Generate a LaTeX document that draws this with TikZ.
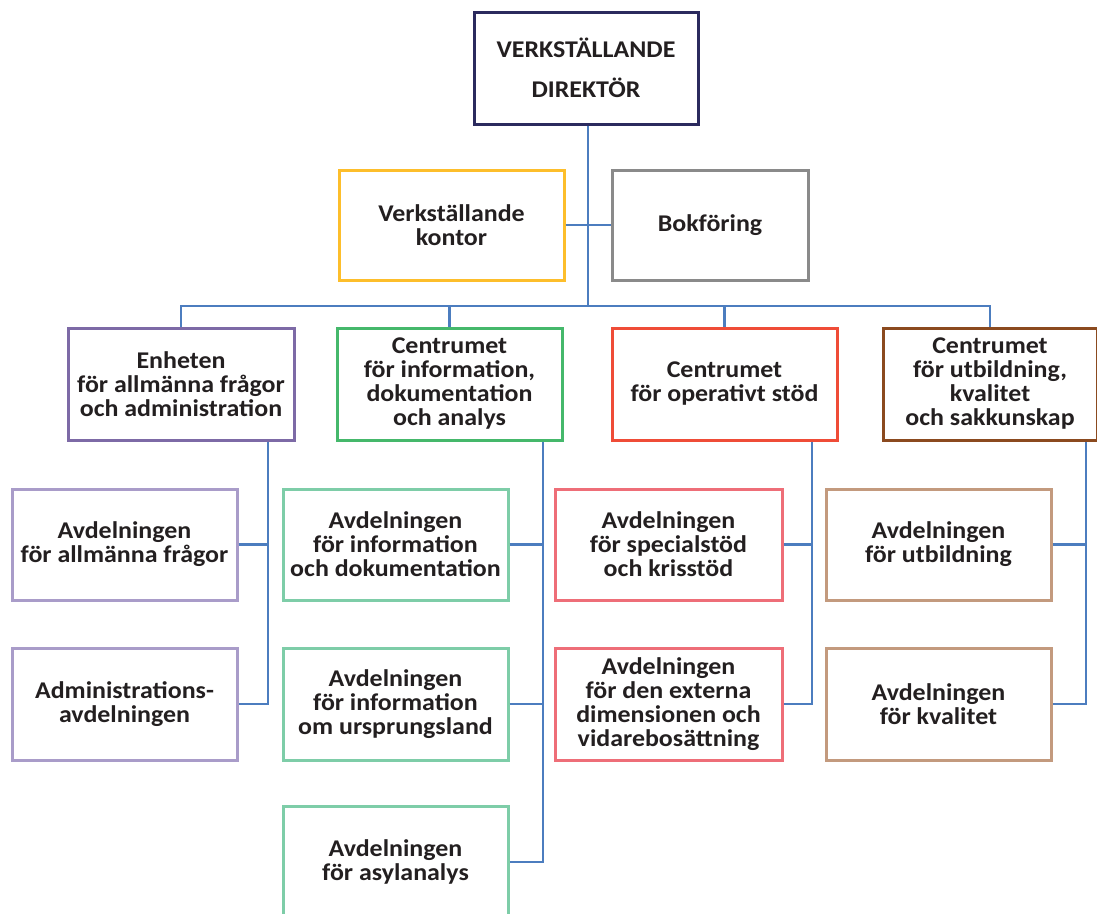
\documentclass[tikz,border=0pt]{standalone}
\usepackage{fontspec}
\setmainfont{Carlito}[FakeStretch=1.08]
\usetikzlibrary{calc}
\definecolor{cnavy}{HTML}{2B2A5E}
\definecolor{cyel}{HTML}{FDBE2B}
\definecolor{cgray}{HTML}{8A8A8A}
\definecolor{cpurp}{HTML}{7D6AA6}
\definecolor{cgreen}{HTML}{45B86B}
\definecolor{cred}{HTML}{EF4C37}
\definecolor{cbrown}{HTML}{8B4A1F}
\definecolor{clav}{HTML}{A99CC9}
\definecolor{cmint}{HTML}{7ECDA8}
\definecolor{cpink}{HTML}{EE6E78}
\definecolor{ctan}{HTML}{C39A7E}
\definecolor{cline}{HTML}{4C7DBF}
\definecolor{ctext}{HTML}{231F20}
\tikzset{
  box/.style={draw, line width=3pt, fill=white, inner sep=0pt, align=center,
    text=ctext, font=\fontsize{24}{24}\selectfont\bfseries},
  conn/.style={draw=cline, line width=2.8pt}
}
\begin{document}
\begin{tikzpicture}[x=1pt,y=-1pt]
\useasboundingbox (0,0) rectangle (1097,913);
% top
\node[box, draw=cnavy, minimum width=224pt, minimum height=112pt,
  font=\fontsize{24}{40}\selectfont\bfseries] (vd) at (586,68) {VERKSTÄLLANDE\\DIREKTÖR};
\coordinate (bus) at (588,306);
\coordinate (s1) at (268,0);
\coordinate (s2) at (543,0);
\coordinate (s3) at (812,0);
\coordinate (s4) at (1086,0);
\node[box, draw=cyel, minimum width=225pt, minimum height=110pt] (kon) at (451.5,225) {Verkställande\\kontor};
\node[box, draw=cgray, minimum width=196pt, minimum height=110pt] (bok) at (710,225) {Bokföring};
% level 2
\node[box, draw=cpurp, minimum width=226pt, minimum height=112pt] (enh) at (181,384) {Enheten\\för allmänna frågor\\och administration};
\node[box, draw=cgreen, minimum width=225pt, minimum height=112pt] (cinf) at (449.5,384) {Centrumet\\för information,\\dokumentation\\och analys};
\node[box, draw=cred, minimum width=225pt, minimum height=112pt] (cop) at (724.5,384) {Centrumet\\för operativt stöd};
\node[box, draw=cbrown, minimum width=214pt, minimum height=112pt] (cutb) at (990,384) {Centrumet\\för utbildning,\\kvalitet\\och sakkunskap};
% level 3
\node[box, draw=clav, minimum width=225pt, minimum height=111pt] (a1) at (124.5,544.5) {Avdelningen\\för allmänna frågor};
\node[box, draw=clav, minimum width=225pt, minimum height=112pt] (a2) at (124.5,704) {Administrations-\\avdelningen};
\node[box, draw=cmint, minimum width=225pt, minimum height=111pt] (b1) at (395.5,544.5) {Avdelningen\\för information\\och dokumentation};
\node[box, draw=cmint, minimum width=225pt, minimum height=112pt] (b2) at (395.5,704) {Avdelningen\\för information\\om ursprungsland};
\node[box, draw=cmint, minimum width=225pt, minimum height=112pt] (b3) at (395.5,862) {Avdelningen\\för asylanalys};
\node[box, draw=cpink, minimum width=227pt, minimum height=111pt] (c1) at (668.5,544.5) {Avdelningen\\för specialstöd\\och krisstöd};
\node[box, draw=cpink, minimum width=227pt, minimum height=112pt] (c2) at (668.5,704) {Avdelningen\\för den externa\\dimensionen och\\vidarebosättning};
\node[box, draw=ctan, minimum width=225pt, minimum height=111pt] (d1) at (938.5,544.5) {Avdelningen\\för utbildning};
\node[box, draw=ctan, minimum width=225pt, minimum height=112pt] (d2) at (938.5,704) {Avdelningen\\för kvalitet};
% connectors
\draw[conn] (vd.south -| bus) -- (bus);
\draw[conn] (kon.east) -- (bok.west);
\draw[conn] (enh.north) |- (bus) -| (cutb.north);
\draw[conn] (cinf.north) -- (cinf.north |- bus);
\draw[conn] (cop.north) -- (cop.north |- bus);
\draw[conn] (enh.south -| s1) |- (a2.east);
\draw[conn] (a1.east) -- (a1.east -| s1);
\draw[conn] (cinf.south -| s2) |- (b3.east);
\draw[conn] (b1.east) -- (b1.east -| s2);
\draw[conn] (b2.east) -- (b2.east -| s2);
\draw[conn] (cop.south -| s3) |- (c2.east);
\draw[conn] (c1.east) -- (c1.east -| s3);
\draw[conn] (cutb.south -| s4) |- (d2.east);
\draw[conn] (d1.east) -- (d1.east -| s4);
\end{tikzpicture}
\end{document}
